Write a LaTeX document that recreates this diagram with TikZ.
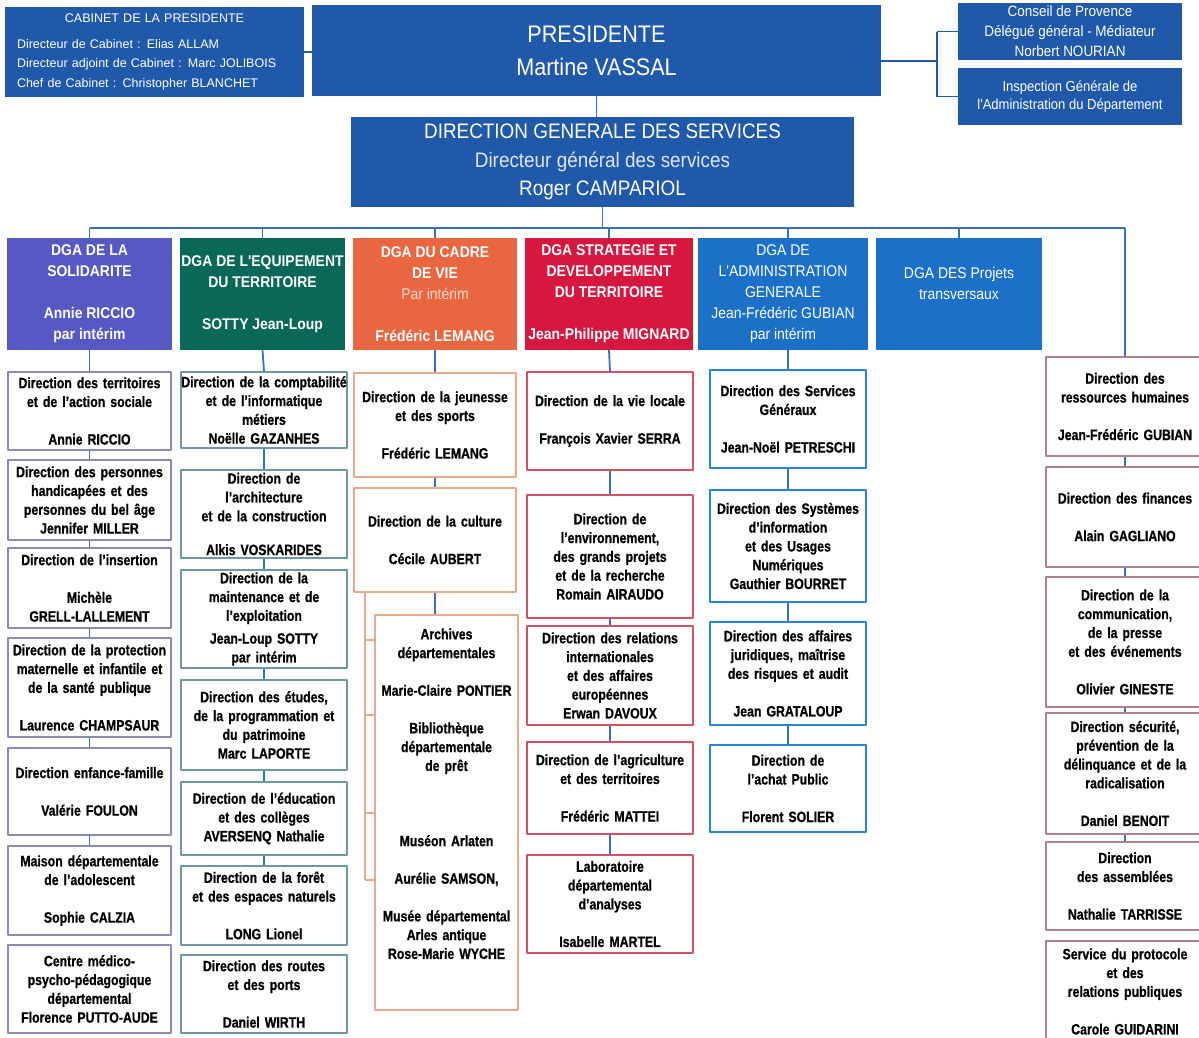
\documentclass[tikz,border=0pt]{standalone}
\usepackage{fontspec}
\setmainfont{Liberation Sans}[FakeStretch=0.82, BoldFeatures={FakeBold=0.8}]
\newfontfamily\titrefont{Liberation Sans}[FakeStretch=0.9]
\newfontfamily\cabfont{Liberation Sans}
\usepackage{tikz}
\definecolor{bleuTete}{RGB}{32,88,170}
\definecolor{violetSol}{RGB}{86,88,196}
\definecolor{vertEqu}{RGB}{10,104,88}
\definecolor{orangeCad}{RGB}{232,102,64}
\definecolor{rougeStr}{RGB}{214,24,64}
\definecolor{bleuAdm}{RGB}{28,112,200}
\definecolor{bleuLien}{RGB}{58,112,184}
\definecolor{traitSol}{RGB}{140,136,184}
\definecolor{traitEqu}{RGB}{110,150,165}
\definecolor{traitCad}{RGB}{232,170,140}
\definecolor{traitStr}{RGB}{212,80,100}
\definecolor{traitAdm}{RGB}{40,132,212}
\definecolor{traitTr}{RGB}{176,128,140}

\begin{document}
\begin{tikzpicture}[x=1pt, y=-1pt, line join=round,
    tete/.style={fill=bleuTete, text=white, align=center, inner sep=0pt},
    dga/.style={fill=#1, text=white, align=center, inner sep=0pt, minimum height=112pt,
        font=\titrefont\fontsize{15.5}{21}\selectfont},
    dir/.style={draw=#1, fill=white, align=center, inner sep=0pt, line width=1.3pt,
        font=\fontsize{15}{18.8}\selectfont\bfseries},
    colSol/.style={dir=traitSol, text width=163pt},
    colEqu/.style={dir=traitEqu, text width=166pt},
    colCad/.style={dir=traitCad, text width=162pt},
    colStr/.style={dir=traitStr, text width=166pt},
    colAdm/.style={dir=traitAdm, text width=156pt, line width=2pt},
    colTr/.style={dir=traitTr, text width=158pt},
    lien/.style={draw=bleuLien, line width=1.8pt}]
    \useasboundingbox (0,0) rectangle (1199,1037);

    % Presidence et cabinet
    \node[tete, minimum width=299pt, minimum height=90pt, text width=275pt, align=left,
        font=\cabfont\fontsize{12.5}{19.5}\selectfont] (cab) at (154.5,52)
        {\makebox[275pt]{CABINET DE LA PRESIDENTE}\\[6pt]
         Directeur de Cabinet : Elias ALLAM\\
         Directeur adjoint de Cabinet : Marc JOLIBOIS\\
         Chef de Cabinet : Christopher BLANCHET};
    \node[tete, minimum width=569pt, minimum height=91pt,
        font=\titrefont\fontsize{24}{33}\selectfont] (pres) at (596.5,50.5)
        {PRESIDENTE\\ Martine VASSAL};
    \node[tete, minimum width=224pt, minimum height=57pt,
        font=\titrefont\fontsize{15}{20}\selectfont] (cons) at (1070,31.5)
        {Conseil de Provence\\ Délégué général - Médiateur\\ Norbert NOURIAN};
    \node[tete, minimum width=224pt, minimum height=57pt,
        font=\titrefont\fontsize{14.5}{18}\selectfont] (insp) at (1070,96.5)
        {Inspection Générale de\\ l'Administration du Département};
    \node[tete, minimum width=503pt, minimum height=90pt,
        font=\titrefont\fontsize{21}{28.5}\selectfont] (dgs) at (602.5,162)
        {DIRECTION GENERALE DES SERVICES\\
         {\color{white!85!bleuTete}Directeur général des services}\\ Roger CAMPARIOL};

    \draw[lien, draw=bleuTete] (cab.east) -- (cab.east -| pres.west);
    \coordinate (acc) at (937,61);
    \draw[lien, draw=bleuTete] (pres.east |- acc) -- (acc);
    \draw[lien, draw=bleuTete] (acc |- cons.west) -- (acc |- insp.west);
    \draw[lien, draw=bleuTete] (acc |- cons.west) -- (cons.west);
    \draw[lien, draw=bleuTete] (acc |- insp.west) -- (insp.west);
    \draw[lien] (pres.south) -- (pres.south |- dgs.north);

    % Directions generales adjointes
    \node[dga=violetSol, minimum width=165pt, font=\titrefont\fontsize{15.5}{21}\selectfont\bfseries]
        (dgaSol) at (89.5,294) {DGA DE LA\\ SOLIDARITE\\~\\ Annie RICCIO\\ par intérim};
    \node[dga=vertEqu, minimum width=165pt, font=\titrefont\fontsize{15.5}{21}\selectfont\bfseries]
        (dgaEqu) at (262.5,294) {DGA DE L'EQUIPEMENT\\ DU TERRITOIRE\\~\\ SOTTY Jean-Loup};
    \node[dga=orangeCad, minimum width=164pt, font=\titrefont\fontsize{15.5}{21}\selectfont\bfseries]
        (dgaCad) at (435,294) {DGA DU CADRE\\ DE VIE\\
        {\mdseries\color{white!75!orangeCad}Par intérim}\\~\\ Frédéric LEMANG};
    \node[dga=rougeStr, minimum width=168pt, font=\titrefont\fontsize{15.5}{21}\selectfont\bfseries]
        (dgaStr) at (609,294) {DGA STRATEGIE ET\\ DEVELOPPEMENT\\ DU TERRITOIRE\\~\\ Jean-Philippe MIGNARD};
    \node[dga=bleuAdm, minimum width=170pt]
        (dgaAdm) at (783,294) {DGA DE\\ L'ADMINISTRATION\\ GENERALE\\ Jean-Frédéric GUBIAN\\ par intérim};
    \node[dga=bleuAdm, minimum width=166pt]
        (dgaPro) at (959,294) {DGA DES Projets\\ transversaux\\~};

    % Solidarite
    \node[colSol, minimum height=78pt] (sol1) at (89.5,411)
        {Direction des territoires\\ et de l'action sociale\\~\\ Annie RICCIO};
    \node[colSol, minimum height=80pt] (sol2) at (89.5,500)
        {Direction des personnes\\ handicapées et des\\ personnes du bel âge\\ Jennifer MILLER};
    \node[colSol, minimum height=80pt] (sol3) at (89.5,588)
        {Direction de l'insertion\\~\\ Michèle\\ GRELL-LALLEMENT};
    \node[colSol, minimum height=99pt] (sol4) at (89.5,687.5)
        {Direction de la protection\\ maternelle et infantile et\\ de la santé publique\\~\\ Laurence CHAMPSAUR};
    \node[colSol, minimum height=87pt] (sol5) at (89.5,791.5)
        {Direction enfance-famille\\~\\ Valérie FOULON};
    \node[colSol, minimum height=89pt] (sol6) at (89.5,890.5)
        {Maison départementale\\ de l'adolescent\\~\\ Sophie CALZIA};
    \node[colSol, minimum height=88pt] (sol7) at (89.5,989)
        {Centre médico-\\ psycho-pédagogique\\ départemental\\ Florence PUTTO-AUDE};

    % Equipement du territoire
    \node[colEqu, minimum height=76pt] (equ1) at (264,410)
        {Direction de la comptabilité\\ et de l'informatique\\ métiers\\ Noëlle GAZANHES};
    \node[colEqu, minimum height=88pt] (equ2) at (264,514)
        {Direction de\\ l'architecture\\ et de la construction\\[15pt] Alkis VOSKARIDES};
    \node[colEqu, minimum height=98pt] (equ3) at (264,619)
        {Direction de la\\ maintenance et de\\ l'exploitation\\[4pt] Jean-Loup SOTTY\\ par intérim};
    \node[colEqu, minimum height=90pt] (equ4) at (264,725)
        {Direction des études,\\ de la programmation et\\ du patrimoine\\ Marc LAPORTE};
    \node[colEqu, minimum height=73pt] (equ5) at (264,818.5)
        {Direction de l'éducation\\ et des collèges\\ AVERSENQ Nathalie};
    \node[colEqu, minimum height=79pt] (equ6) at (264,905.5)
        {Direction de la forêt\\ et des espaces naturels\\~\\ LONG Lionel};
    \node[colEqu, minimum height=78pt] (equ7) at (264,994)
        {Direction des routes\\ et des ports\\~\\ Daniel WIRTH};

    % Cadre de vie
    \node[colCad, minimum height=104pt] (cad1) at (435,425)
        {Direction de la jeunesse\\ et des sports\\~\\ Frédéric LEMANG};
    \node[colCad, minimum height=104pt] (cad2) at (435,540)
        {Direction de la culture\\~\\ Cécile AUBERT};
    \node[colCad, text width=143pt, minimum height=395pt] (cad3) at (446.5,812.5)
        {Archives\\ départementales\\~\\ Marie-Claire PONTIER\\~\\
         Bibliothèque\\ départementale\\ de prêt\\~\\~\\~\\
         Muséon Arlaten\\~\\ Aurélie SAMSON,\\~\\
         Musée départemental\\ Arles antique\\ Rose-Marie WYCHE\\~\\~};

    % Strategie et developpement
    \node[colStr, minimum height=98pt] (str1) at (610,421)
        {Direction de la vie locale\\~\\ François Xavier SERRA};
    \node[colStr, minimum height=123pt] (str2) at (610,556.5)
        {Direction de\\ l'environnement,\\ des grands projets\\ et de la recherche\\ Romain AIRAUDO};
    \node[colStr, minimum height=99pt] (str3) at (610,675.5)
        {Direction des relations\\ internationales\\ et des affaires\\ européennes\\ Erwan DAVOUX};
    \node[colStr, minimum height=92pt] (str4) at (610,788)
        {Direction de l'agriculture\\ et des territoires\\~\\ Frédéric MATTEI};
    \node[colStr, minimum height=98pt] (str5) at (610,904)
        {Laboratoire\\ départemental\\ d'analyses\\~\\ Isabelle MARTEL};

    % Administration generale
    \node[colAdm, minimum height=98pt] (adm1) at (788,419)
        {Direction des Services\\ Généraux\\~\\ Jean-Noël PETRESCHI};
    \node[colAdm, minimum height=112pt] (adm2) at (788,546)
        {Direction des Systèmes\\ d'information\\ et des Usages\\ Numériques\\ Gauthier BOURRET};
    \node[colAdm, minimum height=103pt] (adm3) at (788,673.5)
        {Direction des affaires\\ juridiques, maîtrise\\ des risques et audit\\~\\ Jean GRATALOUP};
    \node[colAdm, minimum height=87pt] (adm4) at (788,788.5)
        {Direction de\\ l'achat Public\\~\\ Florent SOLIER};

    % Directions rattachees a la DGS
    \node[colTr, minimum height=99pt] (tr1) at (1125,406.5)
        {Direction des\\ ressources humaines\\~\\ Jean-Frédéric GUBIAN};
    \node[colTr, minimum height=100pt] (tr2) at (1125,517)
        {Direction des finances\\~\\ Alain GAGLIANO};
    \node[colTr, minimum height=130pt] (tr3) at (1125,642)
        {Direction de la\\ communication,\\ de la presse\\ et des événements\\~\\ Olivier GINESTE};
    \node[colTr, minimum height=121pt] (tr4) at (1125,773.5)
        {Direction sécurité,\\ prévention de la\\ délinquance et de la\\ radicalisation\\~\\ Daniel BENOIT};
    \node[colTr, minimum height=88pt] (tr5) at (1125,886)
        {Direction\\ des assemblées\\~\\ Nathalie TARRISSE};
    \node[colTr, minimum height=101pt] (tr6) at (1125,991.5)
        {Service du protocole\\ et des\\ relations publiques\\~\\ Carole GUIDARINI};

    % Liaisons DGS -> DGA
    \coordinate (bus) at (0,228);
    \draw[lien] (dgs.south) -- (dgs.south |- bus);
    \draw[lien] (dgaSol.north |- bus) -- (tr1.north |- bus);
    \foreach \n in {dgaSol,dgaEqu,dgaCad,dgaStr,dgaPro,tr1}
        \draw[lien] (\n.north |- bus) -- (\n.north);
    \draw[lien] (adm1.north |- bus) -- (adm1.north |- dgaAdm.north);

    % Liaisons dans les colonnes
    \foreach \a/\b in {dgaSol/sol1,sol1/sol2,sol2/sol3,sol3/sol4,sol4/sol5,sol5/sol6,
        dgaEqu/equ1,equ1/equ2,equ2/equ3,equ3/equ4,equ4/equ5,equ5/equ6,
        dgaCad/cad1,cad1/cad2,
        dgaStr/str1,str1/str2,str2/str3,str3/str4,str4/str5,
        adm1/adm2,adm2/adm3,adm3/adm4,
        tr1/tr2,tr2/tr3,tr3/tr4,tr4/tr5}
        \draw[lien] (\a.south) -- (\b.north);
    \draw[lien] (adm1.north |- dgaAdm.south) -- (adm1.north);
    \draw[lien] (cad2.south) -- (cad2.south |- cad3.north);

    % Accolade de la culture
    \coordinate (crochH) at (365,592);
    \coordinate (crochB) at (365,880);
    \draw[draw=traitCad, line width=1.6pt] (crochH) -- (crochB);
    \foreach \y in {640,715,813,880} {
        \coordinate (ta) at (365,\y);
        \draw[draw=traitCad, line width=1.6pt] (ta) -- (ta -| cad3.west);
    }
\end{tikzpicture}
\end{document}
